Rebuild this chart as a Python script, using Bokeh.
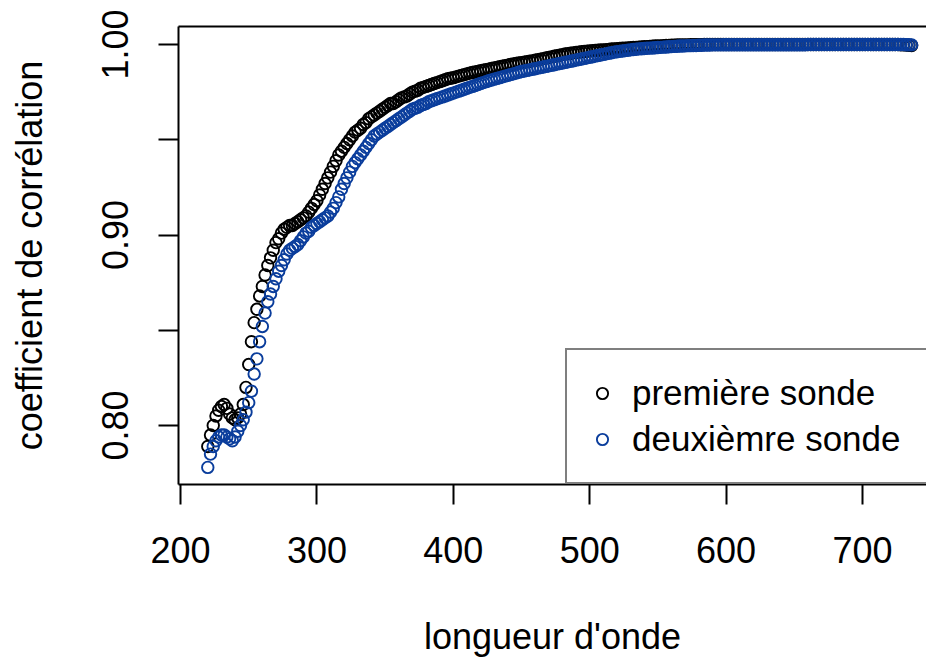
from bokeh.plotting import figure
from bokeh.models import Range1d, FixedTicker, LinearAxis, Legend, LegendItem
from bokeh.embed import file_html
from bokeh.resources import INLINE

# Wavelength grid (nm), sampled every 2 nm
longueur_onde = list(range(220, 737, 2))

# Correlation coefficient, first probe
premiere_sonde = [
    0.789, 0.795, 0.800, 0.805, 0.808, 0.810, 0.811, 0.809, 0.806, 0.804,
    0.803, 0.804, 0.806, 0.811, 0.820, 0.832, 0.844, 0.854, 0.861, 0.868,
    0.873, 0.879, 0.884, 0.888, 0.892, 0.896, 0.898, 0.901, 0.903, 0.904,
    0.905, 0.905, 0.906, 0.907, 0.908, 0.909, 0.910, 0.912, 0.914, 0.916,
    0.918, 0.921, 0.924, 0.927, 0.930, 0.933, 0.936, 0.939, 0.942, 0.944,
    0.946, 0.948, 0.950, 0.952, 0.954, 0.955, 0.956, 0.958, 0.959, 0.961,
    0.962, 0.963, 0.964, 0.965, 0.966, 0.967, 0.968, 0.969, 0.969, 0.970,
    0.971, 0.972, 0.9725, 0.973, 0.974, 0.975, 0.9755, 0.976, 0.977, 0.9775,
    0.978, 0.9785, 0.979, 0.9795, 0.980, 0.9805, 0.981, 0.9815, 0.982, 0.9823,
    0.9826, 0.9830, 0.9834, 0.9838, 0.9842, 0.9846, 0.9850, 0.9853, 0.9856, 0.9859,
    0.9862, 0.9865, 0.9868, 0.9871, 0.9874, 0.9877, 0.9880, 0.9883, 0.9886, 0.9889,
    0.9892, 0.9895, 0.9898, 0.9900, 0.9903, 0.9905, 0.9907, 0.9910, 0.9912, 0.9914,
    0.9917, 0.9920, 0.9923, 0.9926, 0.9929, 0.9932, 0.9935, 0.9938, 0.9941, 0.9944,
    0.9947, 0.9950, 0.9952, 0.9954, 0.9956, 0.9958, 0.9960, 0.9962, 0.9963, 0.9965,
    0.9966, 0.9967, 0.9969, 0.9970, 0.9971, 0.9972, 0.9973, 0.9974, 0.9976, 0.9977,
    0.9978, 0.9979, 0.9980, 0.9981, 0.9982, 0.9983, 0.9984, 0.9985, 0.9986, 0.9987,
    0.9988, 0.9989, 0.9990, 0.9991, 0.9992, 0.9993, 0.9993, 0.9994, 0.9995, 0.9995,
    0.9996, 0.9996, 0.9997, 0.9997, 0.9998, 0.9998, 0.9998, 0.9999, 0.9999, 0.9999,
    0.9999, 0.9999, 1.0000, 1.0000, 1.0000, 1.0000, 1.0000, 1.0000, 1.0000, 1.0000,
    1.0000, 1.0000, 1.0000, 1.0000, 1.0000, 1.0000, 1.0000, 1.0000, 1.0000, 1.0000,
    1.0000, 1.0000, 1.0000, 1.0000, 1.0000, 1.0000, 1.0000, 1.0000, 1.0000, 1.0000,
    1.0000, 1.0000, 1.0000, 1.0000, 1.0000, 1.0000, 1.0000, 1.0000, 1.0000, 1.0000,
    1.0000, 1.0000, 1.0000, 1.0000, 1.0000, 1.0000, 1.0000, 1.0000, 1.0000, 1.0000,
    1.0000, 1.0000, 1.0000, 1.0000, 1.0000, 1.0000, 1.0000, 1.0000, 1.0000, 1.0000,
    1.0000, 1.0000, 1.0000, 1.0000, 1.0000, 1.0000, 1.0000, 1.0000, 1.0000, 1.0000,
    1.0000, 1.0000, 1.0000, 1.0000, 0.9999, 0.9998, 0.9997, 0.9996, 0.9995,
]

# Correlation coefficient, second probe
deuxieme_sonde = [
    0.778, 0.785, 0.789, 0.792, 0.794, 0.795, 0.795, 0.794, 0.793, 0.792,
    0.794, 0.797, 0.800, 0.803, 0.807, 0.812, 0.818, 0.827, 0.835, 0.844,
    0.852, 0.859, 0.865, 0.869, 0.873, 0.877, 0.881, 0.884, 0.887, 0.890,
    0.892, 0.893, 0.894, 0.895, 0.897, 0.899, 0.901, 0.902, 0.904, 0.905,
    0.906, 0.907, 0.908, 0.909, 0.910, 0.912, 0.914, 0.917, 0.920, 0.924,
    0.927, 0.930, 0.933, 0.936, 0.938, 0.940, 0.942, 0.944, 0.946, 0.948,
    0.950, 0.952, 0.953, 0.954, 0.955, 0.956, 0.957, 0.958, 0.959, 0.960,
    0.961, 0.962, 0.963, 0.964, 0.965, 0.966, 0.9665, 0.967, 0.968, 0.9685,
    0.969, 0.970, 0.9705, 0.971, 0.9715, 0.972, 0.9725, 0.973, 0.9735, 0.974,
    0.9745, 0.975, 0.9755, 0.976, 0.9765, 0.977, 0.9775, 0.978, 0.9785, 0.979,
    0.9795, 0.9800, 0.9805, 0.9810, 0.9814, 0.9818, 0.9822, 0.9826, 0.9830, 0.9834,
    0.9838, 0.9842, 0.9846, 0.9850, 0.9854, 0.9858, 0.9861, 0.9864, 0.9867, 0.9870,
    0.9873, 0.9876, 0.9879, 0.9882, 0.9885, 0.9888, 0.9891, 0.9894, 0.9897, 0.9900,
    0.9903, 0.9906, 0.9909, 0.9912, 0.9915, 0.9918, 0.9921, 0.9924, 0.9927, 0.9930,
    0.9933, 0.9936, 0.9939, 0.9942, 0.9945, 0.9948, 0.9951, 0.9954, 0.9957, 0.9960,
    0.9962, 0.9964, 0.9966, 0.9968, 0.9970, 0.9972, 0.9974, 0.9975, 0.9977, 0.9978,
    0.9979, 0.9980, 0.9981, 0.9982, 0.9983, 0.9984, 0.9985, 0.9986, 0.9987, 0.9988,
    0.9989, 0.9990, 0.9991, 0.9992, 0.9992, 0.9993, 0.9994, 0.9994, 0.9995, 0.9995,
    0.9996, 0.9996, 0.9997, 0.9997, 0.9997, 0.9998, 0.9998, 0.9998, 0.9998, 0.9999,
    0.9999, 0.9999, 0.9999, 0.9999, 0.9999, 0.9999, 0.9999, 0.9999, 0.9999, 0.9999,
    0.9999, 0.9999, 0.9999, 0.9999, 0.9999, 0.9999, 0.9999, 0.9999, 0.9999, 0.9999,
    0.9999, 0.9999, 0.9999, 0.9999, 0.9999, 0.9999, 0.9999, 0.9999, 0.9999, 0.9999,
    1.0000, 1.0000, 1.0000, 1.0000, 1.0000, 1.0000, 1.0000, 1.0000, 1.0000, 1.0000,
    1.0000, 1.0000, 1.0000, 1.0000, 1.0000, 1.0000, 1.0000, 1.0000, 1.0000, 1.0000,
    1.0000, 1.0000, 1.0000, 1.0000, 1.0000, 1.0000, 1.0000, 1.0000, 1.0000, 1.0000,
    1.0000, 1.0000, 1.0000, 1.0000, 1.0000, 1.0000, 0.9999, 0.9999, 0.9998,
]

x_ticks = [200, 300, 400, 500, 600, 700]
y_ticks = [0.80, 0.85, 0.90, 0.95, 1.00]
y_tick_labels = {0.80: "0.80", 0.85: "", 0.90: "0.90", 0.95: "", 1.00: "1.00"}

FONT = "Liberation Sans"
FONT_SIZE = "36px"
BLUE = "#0a3d9c"
LW = 2

p = figure(
    width=926, height=662,
    x_range=Range1d(198.53, 746.9), y_range=Range1d(0.76903, 1.00945),
    output_backend="svg", toolbar_location=None,
    min_border_left=178, min_border_right=0, min_border_top=26, min_border_bottom=178,
    x_axis_label="longueur d'onde", y_axis_label="coefficient de corrélation",
)
p.outline_line_color = None
p.xgrid.visible = False
p.ygrid.visible = False
p.background_fill_color = "white"
p.border_fill_color = "white"

r1 = p.scatter(longueur_onde, premiere_sonde, marker="circle", size=11.5,
               fill_color=None, line_color="black", line_width=1.9)
r2 = p.scatter(longueur_onde, deuxieme_sonde, marker="circle", size=11.5,
               fill_color=None, line_color=BLUE, line_width=1.9)

p.xaxis.ticker = FixedTicker(ticks=x_ticks)
p.yaxis.ticker = FixedTicker(ticks=y_ticks)
p.yaxis.major_label_overrides = y_tick_labels
p.yaxis.major_label_orientation = "vertical"

for ax in (p.xaxis[0], p.yaxis[0]):
    ax.axis_line_color = "black"
    ax.axis_line_width = LW
    ax.major_tick_line_color = "black"
    ax.major_tick_line_width = LW
    ax.major_tick_in = 0
    ax.major_tick_out = 20
    ax.minor_tick_line_color = None
    ax.major_label_text_font = FONT
    ax.major_label_text_font_size = FONT_SIZE
    ax.major_label_text_color = "black"
    ax.axis_label_text_font = FONT
    ax.axis_label_text_font_size = FONT_SIZE
    ax.axis_label_text_font_style = "normal"
    ax.axis_label_text_color = "black"

p.xaxis.major_label_standoff = 32
p.xaxis.axis_label_standoff = 50
p.yaxis.major_label_standoff = 30
p.yaxis.axis_label_standoff = 50

# top edge of the plot box
top = LinearAxis(ticker=FixedTicker(ticks=[]), major_label_text_font_size="0px",
                 axis_line_color="black", axis_line_width=LW,
                 major_tick_line_color=None, minor_tick_line_color=None)
p.add_layout(top, "above")

legend = Legend(
    items=[LegendItem(label="première sonde", renderers=[r1]),
           LegendItem(label="deuxièmre sonde", renderers=[r2])],
    location=(387, 0), margin=0, padding=21, spacing=2,
    glyph_width=28, glyph_height=28, label_height=44, label_width=330,
    label_standoff=16,
    label_text_font=FONT, label_text_font_size="35px", label_text_color="black",
    border_line_color="black", border_line_width=LW,
    background_fill_color="white", background_fill_alpha=1.0,
)
p.add_layout(legend)

open("out.html", "w").write(file_html(p, INLINE))
